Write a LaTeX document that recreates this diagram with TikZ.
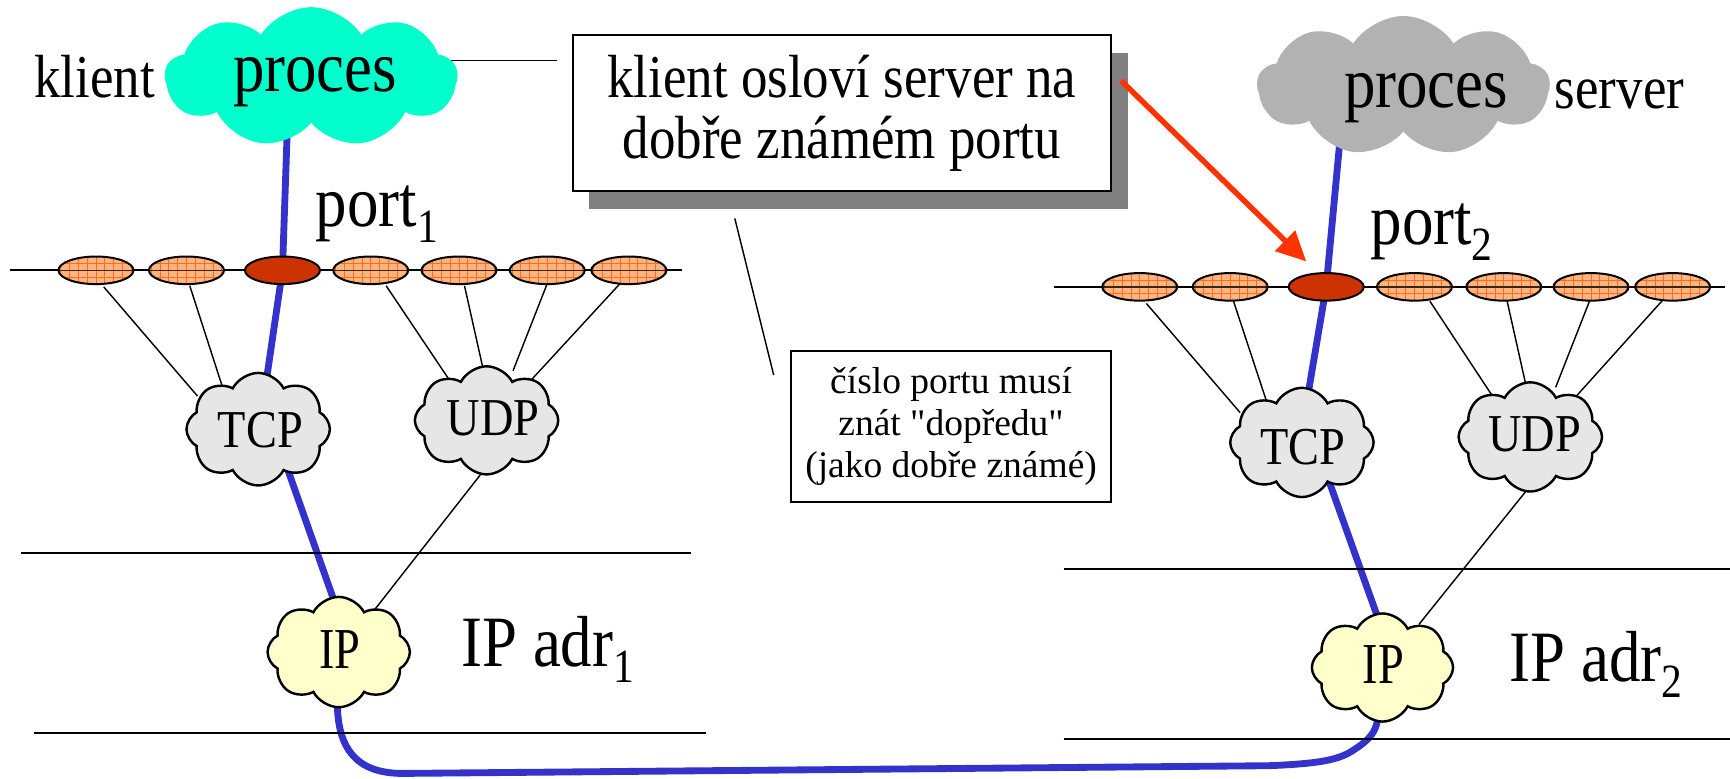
\documentclass[tikz,border=0pt]{standalone}
\usepackage{fontspec}
\setmainfont{Liberation Serif}
\newfontfamily\rawserif{Liberation Serif}[Ligatures=TeXOff]
\usetikzlibrary{shapes.symbols,shapes.geometric,arrows.meta,calc,shadows}
\pgfdeclarelayer{background}
\pgfsetlayers{background,main}
\definecolor{procA}{RGB}{0,255,204}
\definecolor{procB}{RGB}{178,178,178}
\definecolor{cgray}{RGB}{230,230,230}
\definecolor{cyell}{RGB}{255,255,204}
\definecolor{blueln}{RGB}{51,51,204}
\definecolor{portred}{RGB}{204,51,0}
\definecolor{portor}{RGB}{255,180,130}
\definecolor{gridor}{RGB}{255,110,20}
\definecolor{arrred}{RGB}{255,51,0}
\definecolor{shad}{RGB}{128,128,128}
\newcommand{\subs}[1]{\raisebox{-0.22em}{\scalebox{0.66}{#1}}}
\newcommand{\tall}[1]{\scalebox{1}[1.15]{#1}}
\newcommand{\sq}{{\rawserif "}}
\tikzset{
  proccloud/.style={cloud, cloud puffs=9, cloud puff arc=115, cloud ignores aspect, inner sep=0pt, draw=none, minimum width=265pt, minimum height=127pt},
  protocloud/.style={cloud, cloud puffs=8, cloud puff arc=125, cloud ignores aspect, inner sep=0pt, draw=black, line width=2.2pt, minimum width=130pt, minimum height=100pt},
  portell/.style={ellipse, draw=black, line width=1.8pt, minimum width=68pt, minimum height=25pt, inner sep=0pt, fill=portor,
    path picture={
      \foreach \i in {-4,...,4}
        \draw[gridor, line width=0.7pt] ([xshift=\i*8pt]path picture bounding box.south) -- ([xshift=\i*8pt]path picture bounding box.north);
      \foreach \j in {-1,1}
        \draw[gridor, line width=0.7pt] ([yshift=\j*6pt]path picture bounding box.west) -- ([yshift=\j*6pt]path picture bounding box.east);
      \draw[black!70!brown, line width=1.2pt] (path picture bounding box.west) -- (path picture bounding box.east);
    }},
  portsel/.style={ellipse, draw=black, line width=1.8pt, minimum width=68pt, minimum height=25pt, inner sep=0pt, fill=portred},
  bigtext/.style={font=\fontsize{57}{62}\selectfont, inner sep=0pt, anchor=base west},
  midtext/.style={font=\fontsize{48}{55}\selectfont, inner sep=0pt, anchor=base west},
  prototext/.style={font=\fontsize{42}{46}\selectfont, inner sep=0pt},
  iptext/.style={font=\fontsize{42}{46}\selectfont, inner sep=0pt},
  thinln/.style={black, line width=1.3pt},
  layerln/.style={black, line width=1.8pt},
  rowln/.style={black, line width=1.5pt},
  blueconn/.style={blueln, line width=6.2pt, line join=round},
}
\begin{document}
\begin{tikzpicture}[x=1pt, y=-1pt]
\useasboundingbox (0,0) rectangle (1568,706);

% ---------- process clouds
\node[proccloud, fill=procA] (pc1) at (282,70) {};
\node[proccloud, fill=procB] (pc2) at (1272,78) {};
\node[bigtext] (pc1t) at (211,83) {\tall{proces}};
\node[bigtext] (pc2t) at (1218,97) {\tall{proces}};
\node[midtext] (kl) at (31,88) {\tall{klient}};
\node[midtext] (sv) at (1409,98) {\tall{server}};
\node[bigtext] (p1) at (286,205) {\tall{port\subs{1}}};
\node[bigtext] (p2) at (1242,222) {\tall{port\subs{2}}};

% ---------- port rows
\draw[rowln] (9,245) -- (618,245);
\draw[rowln] (955,260) -- (1563,260);
\node[portell] (e1) at (87,245) {};
\node[portell] (e2) at (169,245) {};
\node[portsel] (r1) at (256,245) {};
\node[portell] (e4) at (336,245) {};
\node[portell] (e5) at (416,245) {};
\node[portell] (e6) at (496,245) {};
\node[portell] (e7) at (570,245) {};
\node[portell] (f1) at (1033,260) {};
\node[portell] (f2) at (1115,260) {};
\node[portsel] (r2) at (1202,260) {};
\node[portell] (f4) at (1282,260) {};
\node[portell] (f5) at (1363,260) {};
\node[portell] (f6) at (1442,260) {};
\node[portell] (f7) at (1516,260) {};

% ---------- protocol clouds
\node[protocloud, fill=cgray, minimum height=102pt] (tcp1) at (234,389) {};
\node[prototext] at (236,390) {\tall{TCP}};
\node[protocloud, fill=cgray, minimum height=98pt] (udp1) at (441,381) {};
\node[prototext] at (447,379) {\tall{UDP}};
\node[protocloud, fill=cyell, minimum width=129pt] (ip1) at (307,591) {};
\node[iptext] at (308,589) {\scalebox{1}[1.25]{IP}};
\node[protocloud, fill=cgray, minimum height=99pt] (tcp2) at (1180,401) {};
\node[prototext] at (1181,405) {\tall{TCP}};
\node[protocloud, fill=cgray, minimum height=99pt] (udp2) at (1387,396) {};
\node[prototext] at (1391,394) {\tall{UDP}};
\node[protocloud, fill=cyell, minimum width=128pt, minimum height=98pt] (ip2) at (1253,605) {};
\node[iptext] at (1254,602) {\scalebox{1}[1.25]{IP}};

\node[bigtext] (ipa1) at (418,604) {\tall{IP adr\subs{1}}};
\node[bigtext] (ipa2) at (1368,618) {\tall{IP adr\subs{2}}};

% ---------- layer lines
\draw[layerln] (19,501) -- (626,501);
\draw[layerln] (31,664) -- (640,664);
\draw[layerln] (964,516) -- (1568,516);
\draw[layerln] (964,670) -- (1568,670);

% ---------- boxes
\node[draw=black, line width=2pt, fill=white, minimum width=488pt, minimum height=141pt, inner sep=0pt,
      general shadow={fill=shad, shadow xshift=15pt, shadow yshift=-16pt},
      align=center, font=\fontsize{48}{55}\selectfont] (callout) at (763,102.5)
      {\tall{klient osloví server na}\\\tall{dobře známém portu}};
\node[draw=black, line width=1.5pt, fill=white, minimum width=290pt, minimum height=137pt, inner sep=0pt,
      align=center, font=\fontsize{34}{38.5}\selectfont] (note) at (862,386.5)
      {číslo portu musí\\znát \sq dopředu\sq\\(jako dobře známé)};

% ---------- red arrow
\draw[arrred, line width=5pt, -{Triangle[length=27pt, width=25pt]}]
  ($(callout.east)+(8,-29.5)$) -- ($(r2)+(-18,-23)$);

% ---------- background connectors
\begin{pgfonlayer}{background}
  \draw[thinln] ($(pc1)+(127,-15)$) -- ($(callout.west)+(-13,-47.5)$);
  \draw[thinln] ($(callout.south)+(-97,24)$) -- ($(note.west)+(-15,-46.5)$);
  % left thin
  \draw[thinln] ($(e1)+(7,15)$) -- ($(tcp1)+(-55,-30)$);
  \draw[thinln] ($(e2)+(3,14)$) -- ($(tcp1)+(-31,-34)$);
  \draw[thinln] ($(e4)+(14,14)$) -- ($(udp1)+(-30,-31)$);
  \draw[thinln] ($(e5)+(5,14)$) -- ($(udp1)+(-3,-46)$);
  \draw[thinln] ($(e6)+(0,12)$) -- ($(udp1)+(24,-45)$);
  \draw[thinln] ($(e7)+(-8,12)$) -- ($(udp1)+(39,-35)$);
  \draw[thinln] ($(udp1)+(-3,46)$) -- ($(ip1)+(33,-39)$);
  % right thin
  \draw[thinln] ($(f1)+(6,15)$) -- ($(tcp2)+(-56,-27)$);
  \draw[thinln] ($(f2)+(3,13)$) -- ($(tcp2)+(-30,-31)$);
  \draw[thinln] ($(f4)+(14,13)$) -- ($(udp2)+(-31,-32)$);
  \draw[thinln] ($(f5)+(3,13)$) -- ($(udp2)+(-4,-47)$);
  \draw[thinln] ($(f6)+(-1,12)$) -- ($(udp2)+(23,-45)$);
  \draw[thinln] ($(f7)+(-9,12)$) -- ($(udp2)+(39,-34)$);
  \draw[thinln] ($(udp2)+(-3,48)$) -- ($(ip2)+(33,-39)$);
  % blue left + bottom
  \draw[blueconn] ($(pc1)+(-20,0)$) -- (r1.center) -- ($(tcp1)+(3,-14)$) -- ($(tcp1)+(16,6)$)
     -- ($(ip1)+(3,-26)$) -- ($(ip1)+(-1,9)$) -- ($(ip1)+(-1,54)$)
     .. controls ($(ip1)+(1,84)$) and ($(ip1)+(13,110)$) .. ($(ip1)+(58,110)$)
     -- ($(ip2)+(-103,89)$)
     .. controls ($(ip2)+(-53,87)$) and ($(ip2)+(-38,83)$) .. ($(ip2)+(-25,74)$)
     .. controls ($(ip2)+(-8,63)$) and ($(ip2)+(-5,55)$) .. ($(ip2)+(-4,43)$)
     -- (ip2.center);
  % blue right
  \draw[blueconn] ($(pc2)+(-55,22)$) -- (r2.center) -- ($(tcp2)+(0,-11)$) -- ($(tcp2)+(17,14)$)
     -- ($(ip2)+(3,-25)$) -- (ip2.center);
\end{pgfonlayer}
\end{tikzpicture}
\end{document}
